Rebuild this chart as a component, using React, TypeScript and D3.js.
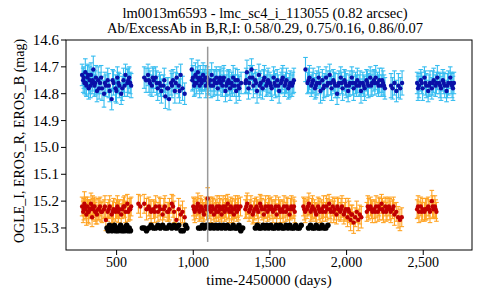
import React from "react";
import * as d3 from "d3";

// [day, mag, err]
const erosB: [number, number, number][] = [
  [275,14.73,.04],[282,14.75,.045],[290,14.76,.04],[296,14.72,.05],[303,14.77,.04],[310,14.74,.045],[318,14.78,.04],[325,14.75,.05],
  [333,14.73,.045],[340,14.76,.04],[348,14.71,.05],[356,14.77,.04],[365,14.74,.045],[372,14.79,.04],[380,14.75,.05],[392,14.76,.04],
  [405,14.78,.045],[418,14.80,.05],[430,14.77,.04],[442,14.75,.045],[455,14.79,.04],[468,14.82,.04],[480,14.76,.045],[493,14.78,.05],
  [505,14.74,.04],[518,14.77,.045],[530,14.80,.04],[545,14.75,.045],[558,14.73,.04],[570,14.76,.05],[582,14.74,.04],[595,14.77,.045],
  [680,14.74,.04],[692,14.75,.045],[705,14.73,.04],[718,14.76,.045],[730,14.77,.04],[742,14.75,.045],[755,14.74,.04],[768,14.78,.045],
  [780,14.76,.04],[792,14.79,.045],[805,14.77,.04],[818,14.81,.045],[830,14.78,.04],[842,14.82,.04],[855,14.76,.045],[868,14.75,.04],
  [880,14.79,.045],[892,14.74,.04],[905,14.77,.045],[918,14.73,.04],[930,14.78,.045],[944,14.80,.04],
  [990,14.71,.04],[998,14.74,.045],[1006,14.77,.04],[1014,14.73,.045],[1022,14.76,.04],[1030,14.72,.045],[1038,14.75,.04],[1046,14.74,.045],
  [1055,14.76,.04],[1064,14.73,.045],[1073,14.75,.04],[1082,14.77,.045],[1091,14.74,.04],[1100,14.76,.045],[1110,14.75,.04],[1120,14.73,.045],
  [1130,14.77,.04],[1140,14.76,.045],[1150,14.74,.04],[1160,14.78,.045],[1170,14.75,.04],[1180,14.76,.045],[1190,14.77,.04],[1200,14.74,.045],
  [1210,14.79,.04],[1220,14.76,.045],[1230,14.75,.04],[1240,14.78,.045],[1250,14.76,.04],[1260,14.74,.045],[1270,14.77,.04],[1280,14.79,.045],
  [1290,14.75,.04],[1300,14.78,.045],[1312,14.76,.04],
  [1340,14.76,.04],[1350,14.72,.045],[1360,14.78,.04],[1370,14.74,.045],[1380,14.71,.04],[1392,14.77,.045],[1404,14.75,.04],[1416,14.79,.045],
  [1428,14.73,.04],[1440,14.76,.045],[1452,14.78,.04],[1464,14.74,.045],[1476,14.77,.04],[1488,14.75,.045],[1500,14.76,.04],[1512,14.78,.045],
  [1524,14.74,.04],[1536,14.77,.045],[1548,14.75,.04],[1560,14.79,.045],[1572,14.76,.04],[1584,14.74,.045],[1596,14.77,.04],[1608,14.75,.045],
  [1620,14.78,.04],[1632,14.76,.045],[1644,14.77,.04],[1656,14.75,.045],
  [1732,14.71,.045],[1745,14.76,.04],[1758,14.74,.045],[1770,14.77,.04],[1782,14.75,.045],[1794,14.78,.04],[1806,14.76,.045],[1818,14.74,.04],
  [1830,14.79,.045],[1842,14.75,.04],[1854,14.77,.045],[1866,14.74,.04],[1878,14.76,.045],[1890,14.73,.04],[1902,14.78,.045],[1914,14.75,.04],
  [1926,14.77,.045],[1938,14.80,.04],[1950,14.76,.045],[1962,14.74,.04],[1974,14.78,.045],[1986,14.75,.04],[1998,14.77,.045],[2010,14.79,.04],
  [2022,14.76,.045],[2034,14.74,.04],[2046,14.78,.045],[2058,14.76,.04],[2070,14.75,.045],[2082,14.77,.04],[2094,14.79,.045],[2106,14.76,.04],
  [2118,14.78,.045],[2130,14.75,.04],[2142,14.77,.045],[2154,14.74,.04],[2166,14.76,.045],[2178,14.75,.04],[2190,14.74,.045],[2202,14.76,.04],
  [2214,14.75,.045],[2226,14.77,.04],[2238,14.76,.045],[2250,14.78,.04],
  [2290,14.77,.045],[2300,14.78,.04],[2312,14.76,.045],[2325,14.79,.04],[2338,14.77,.045],[2350,14.78,.04],[2362,14.76,.045],
  [2460,14.76,.04],[2472,14.77,.045],[2484,14.75,.04],[2496,14.78,.045],[2508,14.74,.04],[2520,14.77,.045],[2532,14.79,.04],[2544,14.76,.045],
  [2556,14.78,.04],[2568,14.75,.045],[2580,14.77,.04],[2592,14.74,.045],[2604,14.76,.04],[2616,14.78,.045],[2628,14.75,.04],[2640,14.77,.045],
  [2652,14.79,.04],[2664,14.76,.045],[2676,14.74,.04],[2688,14.77,.045],[2700,14.76,.04],
];

const erosBExtra: [number, number, number][] = [
  [286,14.74,.04],[300,14.76,.045],[314,14.73,.04],[329,14.77,.045],[344,14.75,.04],[360,14.76,.045],[386,14.78,.04],[399,14.74,.045],
  [424,14.76,.04],[449,14.77,.045],[474,14.75,.04],[499,14.79,.045],[512,14.76,.04],[537,14.78,.045],[552,14.77,.04],[576,14.75,.045],[589,14.76,.04],
  [711,14.75,.045],[736,14.74,.04],[761,14.76,.045],[786,14.77,.04],[811,14.75,.045],[836,14.78,.04],[861,14.77,.045],[886,14.76,.04],[911,14.79,.045],
  [994,14.75,.04],[1010,14.76,.045],[1026,14.74,.04],[1042,14.77,.045],[1059,14.75,.04],[1078,14.74,.045],[1095,14.76,.04],[1115,14.77,.045],
  [1135,14.75,.04],[1155,14.76,.045],[1175,14.74,.04],[1195,14.75,.045],[1215,14.77,.04],[1235,14.76,.045],[1255,14.77,.04],[1275,14.75,.045],[1295,14.77,.04],
  [1345,14.75,.045],[1365,14.76,.04],[1386,14.74,.045],[1410,14.76,.04],[1434,14.77,.045],[1458,14.75,.04],[1482,14.76,.045],[1506,14.77,.04],
  [1530,14.76,.045],[1554,14.77,.04],[1578,14.75,.045],[1602,14.76,.04],[1626,14.77,.045],[1650,14.76,.04],
  [1752,14.75,.045],[1776,14.76,.04],[1800,14.77,.045],[1824,14.76,.04],[1848,14.78,.045],[1872,14.77,.04],[1896,14.76,.045],[1920,14.76,.04],
  [1944,14.77,.045],[1968,14.76,.04],[1992,14.76,.045],[2016,14.77,.04],[2040,14.76,.045],[2064,14.77,.04],[2088,14.76,.045],[2112,14.77,.04],
  [2136,14.76,.045],[2160,14.77,.04],[2184,14.76,.045],[2208,14.77,.04],[2232,14.75,.045],[2244,14.77,.04],
  [2466,14.78,.045],[2490,14.76,.04],[2514,14.76,.045],[2538,14.77,.04],[2562,14.76,.045],[2586,14.76,.04],[2610,14.77,.045],[2634,14.76,.04],
  [2658,14.77,.045],[2682,14.76,.04],[2694,14.78,.045],
];

const erosR: [number, number, number][] = [
  [275,15.22,.035],[282,15.24,.04],[290,15.21,.045],[296,15.23,.035],[303,15.25,.04],[310,15.22,.035],[318,15.24,.045],[325,15.23,.035],
  [333,15.21,.04],[340,15.26,.035],[348,15.23,.04],[356,15.22,.035],[365,15.24,.045],[372,15.25,.035],[380,15.23,.04],[392,15.22,.035],
  [405,15.24,.04],[418,15.23,.035],[430,15.27,.04],[442,15.24,.035],[455,15.22,.04],[468,15.25,.035],[480,15.23,.04],[493,15.24,.035],
  [505,15.22,.04],[518,15.23,.035],[530,15.25,.04],[545,15.22,.035],[558,15.24,.04],[570,15.21,.035],[582,15.23,.04],[595,15.22,.035],
  [642,15.21,.035],[655,15.22,.04],[680,15.21,.035],[695,15.23,.04],[710,15.22,.035],[725,15.24,.04],[740,15.23,.035],[755,15.22,.04],
  [770,15.24,.035],[785,15.23,.04],[800,15.25,.035],[815,15.22,.04],[830,15.24,.035],[845,15.23,.04],[860,15.21,.035],[875,15.24,.04],
  [890,15.27,.035],[905,15.23,.04],[918,15.25,.035],[930,15.24,.04],[944,15.26,.035],
  [1000,15.22,.035],[1010,15.24,.04],[1020,15.23,.035],[1030,15.21,.04],[1040,15.24,.035],[1050,15.22,.04],[1060,15.23,.035],[1070,15.25,.04],
  [1080,15.22,.035],[1094,15.19,.04],[1105,15.23,.035],[1115,15.24,.04],[1125,15.22,.035],[1135,15.25,.04],[1145,15.23,.035],[1155,15.22,.04],
  [1165,15.24,.035],[1175,15.23,.04],[1185,15.25,.035],[1195,15.22,.04],[1205,15.24,.035],[1215,15.23,.04],[1225,15.21,.035],[1235,15.24,.04],
  [1245,15.22,.035],[1255,15.23,.04],[1265,15.25,.035],[1275,15.22,.04],[1285,15.24,.035],[1295,15.23,.04],[1308,15.22,.035],
  [1340,15.23,.035],[1352,15.21,.04],[1364,15.24,.035],[1376,15.22,.04],[1388,15.25,.035],[1400,15.23,.04],[1412,15.22,.035],[1424,15.24,.04],
  [1436,15.21,.035],[1448,15.23,.04],[1460,15.25,.035],[1472,15.22,.04],[1484,15.24,.035],[1496,15.23,.04],[1508,15.22,.035],[1520,15.24,.04],
  [1532,15.23,.035],[1544,15.25,.04],[1556,15.22,.035],[1568,15.24,.04],[1580,15.23,.035],[1592,15.22,.04],[1604,15.24,.035],[1616,15.23,.04],
  [1628,15.25,.035],[1640,15.22,.04],[1652,15.23,.035],[1662,15.24,.04],
  [1718,15.22,.035],[1730,15.24,.04],[1742,15.23,.035],[1754,15.21,.04],[1766,15.24,.035],[1778,15.22,.04],[1790,15.23,.035],[1802,15.25,.04],
  [1814,15.22,.035],[1826,15.24,.04],[1838,15.23,.035],[1850,15.22,.04],[1862,15.24,.035],[1874,15.23,.04],[1886,15.21,.035],[1898,15.24,.04],
  [1910,15.22,.035],[1922,15.23,.04],[1934,15.25,.035],[1946,15.23,.04],[1958,15.24,.035],[1970,15.22,.04],[1982,15.25,.035],[1994,15.23,.04],
  [2006,15.26,.035],[2016,15.24,.04],[2026,15.27,.04],[2036,15.25,.035],[2046,15.28,.04],[2056,15.26,.035],[2066,15.24,.04],[2076,15.27,.04],
  [2086,15.25,.035],[2096,15.26,.04],
  [2132,15.24,.035],[2144,15.23,.04],[2156,15.22,.035],[2168,15.24,.04],[2180,15.23,.035],[2192,15.22,.04],[2204,15.24,.035],[2216,15.23,.04],
  [2228,15.21,.035],[2240,15.24,.04],[2252,15.22,.035],[2264,15.23,.04],[2276,15.22,.035],[2288,15.24,.04],[2300,15.23,.035],[2312,15.25,.04],
  [2324,15.24,.035],[2336,15.26,.04],[2348,15.27,.04],[2360,15.26,.035],
  [2460,15.23,.035],[2472,15.24,.04],[2484,15.22,.035],[2496,15.23,.04],[2508,15.24,.035],[2520,15.23,.04],[2532,15.22,.035],[2544,15.24,.04],
  [2556,15.20,.04],[2566,15.23,.035],[2576,15.22,.04],[2586,15.24,.035],
];

const erosRExtra: [number, number, number][] = [
  [286,15.23,.04],[300,15.22,.035],[314,15.24,.04],[329,15.23,.035],[344,15.22,.04],[360,15.24,.035],[386,15.23,.04],[399,15.24,.035],
  [424,15.22,.04],[449,15.23,.035],[474,15.24,.04],[499,15.23,.035],[512,15.24,.04],[537,15.23,.035],[552,15.22,.04],[576,15.24,.035],[589,15.23,.04],
  [718,15.23,.035],[748,15.24,.04],[778,15.22,.035],[808,15.23,.04],[838,15.24,.035],[868,15.22,.04],
  [1005,15.23,.04],[1025,15.22,.035],[1045,15.23,.04],[1065,15.24,.035],[1087,15.23,.04],[1110,15.22,.035],[1130,15.23,.04],[1150,15.24,.035],
  [1170,15.22,.04],[1190,15.23,.035],[1210,15.22,.04],[1230,15.23,.035],[1250,15.24,.04],[1270,15.23,.035],[1290,15.22,.04],
  [1346,15.22,.04],[1370,15.23,.035],[1394,15.24,.04],[1418,15.23,.035],[1442,15.22,.04],[1466,15.23,.035],[1490,15.22,.04],[1514,15.23,.035],
  [1538,15.22,.04],[1562,15.23,.035],[1586,15.24,.04],[1610,15.22,.035],[1634,15.23,.04],[1657,15.22,.035],
  [1724,15.23,.04],[1748,15.22,.035],[1772,15.23,.04],[1796,15.24,.035],[1820,15.23,.04],[1844,15.24,.035],[1868,15.22,.04],[1892,15.23,.035],
  [1916,15.24,.04],[1940,15.22,.035],[1964,15.23,.04],[1988,15.24,.035],[2011,15.23,.04],[2031,15.25,.035],
  [2138,15.22,.04],[2162,15.23,.035],[2186,15.24,.04],[2210,15.22,.035],[2234,15.23,.04],[2258,15.24,.035],[2282,15.23,.04],[2306,15.22,.035],
  [2466,15.22,.04],[2490,15.24,.035],[2514,15.23,.04],[2538,15.23,.035],[2561,15.22,.04],[2581,15.23,.035],
];

// [day, mag]
const ogleI: [number, number][] = [
  [438,15.30],[446,15.31],[454,15.29],[462,15.30],[470,15.31],[478,15.30],[486,15.29],[494,15.31],[502,15.30],[510,15.31],
  [518,15.30],[526,15.29],[534,15.31],[542,15.30],[550,15.31],[558,15.30],[566,15.29],[574,15.31],[582,15.30],[590,15.31],
  [668,15.30],[680,15.30],[695,15.31],[710,15.30],[725,15.29],[740,15.30],[755,15.30],[770,15.29],[785,15.30],[800,15.29],
  [815,15.30],[830,15.30],[845,15.29],[860,15.30],[875,15.29],[890,15.30],[905,15.29],[920,15.31],[935,15.31],[950,15.29],[958,15.30],
  [1035,15.30],[1048,15.30],[1060,15.29],[1072,15.30],[1085,15.29],[1098,15.29],[1110,15.30],[1122,15.29],[1135,15.30],[1148,15.29],
  [1160,15.30],[1172,15.29],[1185,15.30],[1198,15.29],[1210,15.30],[1222,15.29],[1235,15.30],[1248,15.30],[1260,15.29],[1272,15.30],
  [1285,15.30],[1298,15.29],[1310,15.31],[1322,15.30],
  [1405,15.30],[1418,15.29],[1430,15.30],[1442,15.30],[1455,15.29],[1468,15.30],[1480,15.29],[1492,15.30],[1505,15.29],[1518,15.30],
  [1530,15.30],[1542,15.29],[1555,15.30],[1568,15.29],[1580,15.30],[1592,15.30],[1605,15.29],[1618,15.30],[1630,15.29],[1642,15.30],
  [1655,15.30],[1668,15.29],[1680,15.30],[1692,15.30],[1704,15.29],
  [1752,15.30],[1765,15.29],[1778,15.30],[1790,15.30],[1802,15.29],[1815,15.30],[1828,15.30],[1840,15.29],[1852,15.30],[1865,15.30],[1878,15.29],
];

const xTicks = [500, 1000, 1500, 2000, 2500];
const yTicks = [14.6, 14.7, 14.8, 14.9, 15.0, 15.1, 15.2, 15.3];
const markerDay = 1094;
const titleLines = [
  "lm0013m6593 - lmc_sc4_i_113055 (0.82 arcsec)",
  "Ab/ExcessAb in B,R,I: 0.58/0.29, 0.75/0.16, 0.86/0.07",
];

const W = 480, H = 300;
const M = { left: 66, right: 8, top: 40, bottom: 50 };
const FONT = "Liberation Serif";

export default function App() {
  const x = d3.scaleLinear().domain([170, 2818]).range([M.left, W - M.right]);
  const y = d3.scaleLinear().domain([14.6, 15.382]).range([M.top, H - M.bottom]);
  const fmt = d3.format(",");
  const cap = 2.3;
  const blue = [...erosB, ...erosBExtra];
  const red = [...erosR, ...erosRExtra];

  const errBars = (data: [number, number, number][], color: string) =>
    data.map(([d, m, e], i) => {
      const cx = x(d), y1 = y(m - e), y2 = y(m + e);
      return (
        <g key={i} stroke={color} strokeWidth={1.1}>
          <line x1={cx} x2={cx} y1={y1} y2={y2} />
          <line x1={cx - cap} x2={cx + cap} y1={y1} y2={y1} />
          <line x1={cx - cap} x2={cx + cap} y1={y2} y2={y2} />
        </g>
      );
    });

  const dots = (data: [number, number, ...number[]][], color: string, r: number) =>
    data.map((p, i) => <circle key={i} cx={x(p[0])} cy={y(p[1])} r={r} fill={color} />);

  return (
    <svg width={W} height={H} style={{ position: "absolute", left: 0, top: 0, background: "#fff", fontFamily: FONT }}>
      <rect x={0} y={0} width={W} height={H} fill="#fff" />
      {titleLines.map((t, i) => (
        <text key={i} x={(M.left + W - M.right) / 2 - 4} y={18 + i * 15} fontSize={14.5} textAnchor="middle" fill="#000">{t}</text>
      ))}
      <g>
        {errBars(blue, "#36bdf0")}
        {errBars(red, "#ffa424")}
        {dots(ogleI, "#000", 2.8)}
        {dots(blue, "#0a10a8", 2.2)}
        {dots(red, "#c00000", 2.2)}
      </g>
      <line x1={x(markerDay)} x2={x(markerDay)} y1={y(14.625)} y2={y(15.352)} stroke="#999" strokeWidth={1.5} />
      <rect x={M.left} y={M.top} width={W - M.left - M.right} height={H - M.top - M.bottom} fill="none" stroke="#000" strokeWidth={1} />
      {yTicks.map((t) => (
        <g key={t}>
          <line x1={M.left - 5} x2={M.left} y1={y(t)} y2={y(t)} stroke="#000" />
          <text x={M.left - 7} y={y(t) + 5} fontSize={15} textAnchor="end">{t.toFixed(1)}</text>
        </g>
      ))}
      {xTicks.map((t) => (
        <g key={t}>
          <line x1={x(t)} x2={x(t)} y1={H - M.bottom} y2={H - M.bottom + 5} stroke="#000" />
          <text x={x(t)} y={H - M.bottom + 17} fontSize={14} textAnchor="middle">{fmt(t)}</text>
        </g>
      ))}
      <text x={(M.left + W - M.right) / 2} y={H - 15} fontSize={15} textAnchor="middle">time-2450000 (days)</text>
      <text transform={`translate(24, ${(M.top + H - M.bottom) / 2 - 4}) rotate(-90)`} fontSize={14} textAnchor="middle">OGLE_I, EROS_R, EROS_B (mag)</text>
    </svg>
  );
}
